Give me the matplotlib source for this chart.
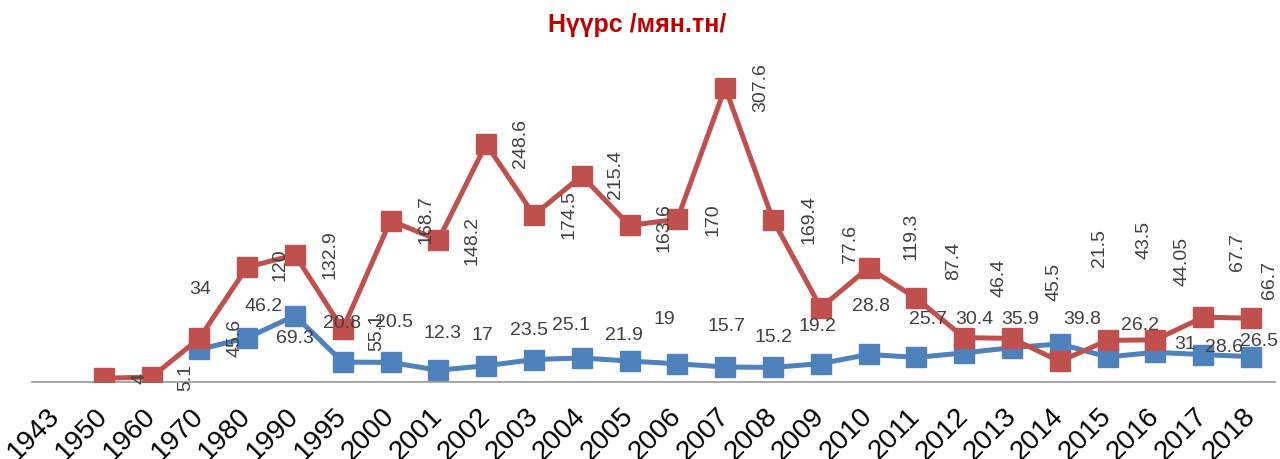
import numpy as np
import matplotlib
matplotlib.use("Agg")
import matplotlib.pyplot as plt

plt.rcParams['font.family'] = ['Liberation Sans', 'DejaVu Sans']

years = ['1943', '1950', '1960', '1970', '1980', '1990', '1995', '2000', '2001',
         '2002', '2003', '2004', '2005', '2006', '2007', '2008', '2009', '2010',
         '2011', '2012', '2013', '2014', '2015', '2016', '2017', '2018']

blue_vals = [None, None, None, 34, 46.2, 69.3, 20.8, 20.5, 12.3, 17, 23.5, 25.1,
             21.9, 19, 15.7, 15.2, 19.2, 28.8, 25.7, 30.4, 35.9, 39.8, 26.2, 31,
             28.6, 26.5]
red_vals = [None, 4, 5.1, 45.6, 120, 132.9, 55.1, 168.7, 148.2, 248.6, 174.5,
            215.4, 163.6, 170, 307.6, 169.4, 77.6, 119.3, 87.4, 46.4, 45.5, 21.5,
            43.5, 44.05, 67.7, 66.7]

# label offsets (pixels, dx right / dy up)
blue_off = [None, None, None, (1, 60), (16, 31), (0, -23), (-1, 39), (3, 40),
            (4, 37), (-4, 30), (-5, 29), (-11, 32), (-6, 26), (-13, 44), (1, 40),
            (1, 30), (-3, 37), (2, 48), (12, 38), (10, 33), (8, 28), (22, 24),
            (32, 31), (30, 8), (21, 7), (8, 15)]
red_off = [None, (36, 0), (34, 0), (36, 0), (33, 2), (35, 0), (34, -3), (35, 1),
           (34, 0), (34, 1), (35, 0), (34, 1), (34, -2), (36, 0), (36, 0),
           (36, 0), (30, 64), (42, 31), (37, 37), (35, 60), (42, 57), (40, 113),
           (36, 100), (27, 78), (34, 65), (19, 38)]

px = 72 / 100.0
blue_c = '#4F81BD'
red_c = '#C0504D'
lab_c = '#404040'

fig = plt.figure(figsize=(12.8, 4.59), dpi=100)
ax = fig.add_axes([0.025, 77 / 459, 0.971, 335 / 459])

x = np.arange(len(years))
b = np.array([np.nan if v is None else v for v in blue_vals], dtype=float)
r = np.array([np.nan if v is None else v for v in red_vals], dtype=float)

ax.plot(x, b, color=blue_c, lw=3.6, marker='s', ms=14, zorder=3)
ax.plot(x, r, color=red_c, lw=3.6, marker='s', ms=14, zorder=4)

for i, v in enumerate(blue_vals):
    if v is None:
        continue
    dx, dy = blue_off[i]
    ax.annotate(f'{v:g}', (x[i], v), xytext=(dx * px, dy * px),
                textcoords='offset points', ha='center', va='center',
                fontsize=14, color=lab_c, zorder=5)

for i, v in enumerate(red_vals):
    if v is None:
        continue
    dx, dy = red_off[i]
    ax.annotate(f'{v:g}', (x[i], v), xytext=(dx * px, dy * px),
                textcoords='offset points', ha='center', va='center',
                rotation=90, fontsize=14, color=lab_c, zorder=5)

ax.set_xlim(-0.5, len(years) - 0.5)
ax.set_ylim(0, 350)
ax.set_yticks([])
ax.set_xticks(x)
ax.set_xticklabels(years, rotation=45, ha='right', va='center',
                   rotation_mode='anchor', fontsize=20)
ax.tick_params(axis='x', length=0, pad=22)
for s in ['top', 'left', 'right']:
    ax.spines[s].set_visible(False)
ax.spines['bottom'].set_color('#A0A0A0')
ax.spines['bottom'].set_linewidth(1.3)

fig.text(637 / 1280, 1 - 25 / 459, 'Нүүрс /мян.тн/', ha='center', va='center',
         fontsize=18, fontweight='bold', color='#C00000')

fig.savefig('out.png', dpi=100)
